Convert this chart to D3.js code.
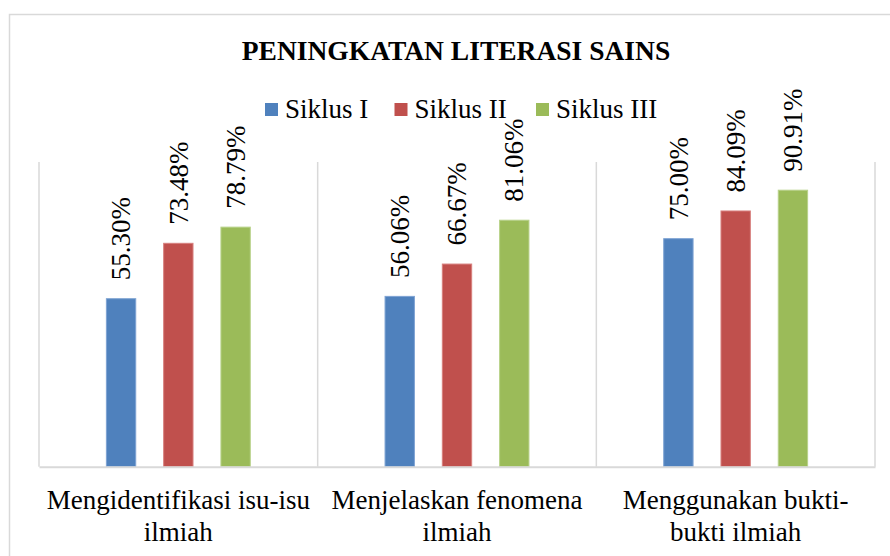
<!DOCTYPE html>
<html>
<head>
<meta charset="utf-8">
<script src="https://cdn.jsdelivr.net/npm/d3@7"></script>
<style>
  body { margin: 0; background: #fff; }
</style>
</head>
<body>
<div id="canvas"></div>
<script>
const W = 890
const H = 556
const serif = '"Liberation Serif", "Times New Roman", Times, serif'

// data
const categories = ['Mengidentifikasi isu-isu ilmiah', 'Menjelaskan fenomena ilmiah', 'Menggunakan bukti-bukti ilmiah']
const tickLines = [['Mengidentifikasi isu-isu', 'ilmiah'], ['Menjelaskan fenomena', 'ilmiah'], ['Menggunakan bukti-', 'bukti ilmiah']]
const seriesNames = ['Siklus I', 'Siklus II', 'Siklus III']
const siklus1 = [55.30, 56.06, 75.00]
const siklus2 = [73.48, 66.67, 84.09]
const siklus3 = [78.79, 81.06, 90.91]
const colors = ['#4f81bd', '#c0504d', '#9bbb59']
const strokes = ['#7ea3d3', '#d7807e', '#b8d28a']

const seriesValues = [siklus1, siklus2, siklus3]

const svg = d3.select('#canvas')
	.append('svg')
	.attr('width', W)
	.attr('height', H)
	.style('font-family', serif);

// chart frame
svg.append('rect')
	.attr('x', 9.5)
	.attr('y', 14.5)
	.attr('width', W + 20)
	.attr('height', H + 20)
	.attr('fill', 'none')
	.attr('stroke', '#d9d9d9')
	.attr('stroke-width', 1.5);

const margin = {top: 162, left: 39, right: 15, bottom: 89};
const graphWidth = W - margin.left - margin.right;
const graphHeight = H - margin.top - margin.bottom - 0.3;

const graph = svg.append('g')
	.attr('transform', `translate(${margin.left}, ${margin.top})`);

const x0 = d3.scaleBand()
	.domain(categories)
	.range([0, graphWidth])
	.padding(0);

const x1 = d3.scaleBand()
	.domain(seriesNames)
	.range([x0.bandwidth() * 0.24, x0.bandwidth() * 0.76])
	.paddingInner(0.47)
	.paddingOuter(0);

const y = d3.scaleLinear()
	.domain([0, 100])
	.range([graphHeight, 0]);

// category separators
graph.selectAll('line.sep')
	.data(d3.range(categories.length + 1))
	.enter()
	.append('line')
		.attr('class', 'sep')
		.attr('x1', i => i * x0.step())
		.attr('x2', i => i * x0.step())
		.attr('y1', 0)
		.attr('y2', graphHeight)
		.attr('stroke', '#d9d9d9')
		.attr('stroke-width', 1.5);

// bars
const groups = graph.selectAll('g.cat')
	.data(categories)
	.enter()
	.append('g')
		.attr('class', 'cat')
		.attr('transform', d => `translate(${x0(d)}, 0)`);

groups.selectAll('rect')
	.data((d, i) => seriesNames.map((s, j) => ({s, j, v: seriesValues[j][i]})))
	.enter()
	.append('rect')
		.attr('x', d => x1(d.s) + 0.5)
		.attr('y', d => y(d.v) + 0.5)
		.attr('width', x1.bandwidth() - 1)
		.attr('height', d => graphHeight - y(d.v) - 0.5)
		.attr('fill', d => colors[d.j])
		.attr('stroke', d => strokes[d.j])
		.attr('stroke-width', 1);

// value labels, rotated
groups.selectAll('text.val')
	.data((d, i) => seriesNames.map((s, j) => ({s, j, v: seriesValues[j][i]})))
	.enter()
	.append('text')
		.attr('class', 'val')
		.attr('transform', d => `translate(${x1(d.s) + x1.bandwidth() / 2}, ${y(d.v) - 18}) rotate(-90)`)
		.attr('dy', '0.34em')
		.style('font-family', serif)
		.style('font-size', '27px')
		.text(d => d.v.toFixed(2) + '%');

// x axis baseline
const xAxisGroup = graph.append('g')
	.attr('transform', `translate(0, ${graphHeight})`);
xAxisGroup.call(d3.axisBottom(x0).tickSize(0).tickFormat(''));
xAxisGroup.select('.domain')
	.attr('stroke', '#d9d9d9')
	.attr('stroke-width', 2);

// category labels
const ticks = graph.selectAll('text.tick')
	.data(categories)
	.enter()
	.append('text')
		.attr('class', 'tick')
		.attr('text-anchor', 'middle')
		.style('font-family', serif)
		.style('font-size', '27px')
		.attr('x', d => x0(d) + x0.bandwidth() / 2)
		.attr('y', graphHeight + 42);

ticks.selectAll('tspan')
	.data((d, i) => tickLines[i])
	.enter()
	.append('tspan')
		.attr('x', function() { return d3.select(this.parentNode).attr('x'); })
		.attr('dy', (d, i) => i === 0 ? 0 : 32)
		.text(d => d);

// title
svg.append('text')
	.attr('x', 456)
	.attr('y', 60)
	.attr('text-anchor', 'middle')
	.style('font-family', serif)
	.style('font-size', '27.5px')
	.style('font-weight', 'bold')
	.text('PENINGKATAN LITERASI SAINS');

// legend
const legendX = [265, 394.5, 536];
const legend = svg.selectAll('g.legend')
	.data(seriesNames)
	.enter()
	.append('g')
		.attr('class', 'legend')
		.attr('transform', (d, i) => `translate(${legendX[i]}, 103)`);

legend.append('rect')
	.attr('width', 13)
	.attr('height', 13)
	.attr('fill', (d, i) => colors[i]);

legend.append('text')
	.attr('x', 20)
	.attr('y', 15)
	.style('font-family', serif)
	.style('font-size', '27px')
	.text(d => d);
</script>
</body>
</html>
